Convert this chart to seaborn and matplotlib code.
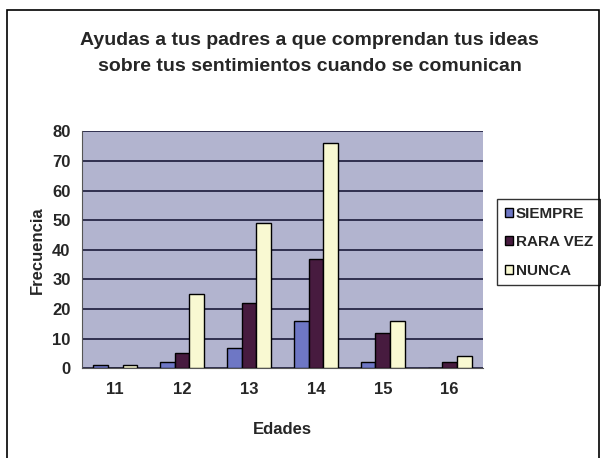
import pandas as pd
import matplotlib.pyplot as plt
import seaborn as sns
from matplotlib.patches import Rectangle

# Datos
edades = ["11", "12", "13", "14", "15", "16"]
siempre = [1, 2, 7, 16, 2, 0]
rara_vez = [0, 5, 22, 37, 12, 2]
nunca = [1, 25, 49, 76, 16, 4]
series = ["SIEMPRE", "RARA VEZ", "NUNCA"]
colores = ["#5f6cd4", "#4e1444", "#ffffcc"]

df = pd.DataFrame({"Edades": edades, "SIEMPRE": siempre,
                   "RARA VEZ": rara_vez, "NUNCA": nunca})
df_largo = df.melt(id_vars="Edades", var_name="Respuesta", value_name="Frecuencia")

sns.set_style("white")
plt.rcParams["font.family"] = ["Liberation Sans", "DejaVu Sans"]

fig = plt.figure(figsize=(6.01, 4.58), dpi=100)
ax = fig.add_axes([0.136, 0.196, 0.668, 0.517])

sns.barplot(data=df_largo, x="Edades", y="Frecuencia", hue="Respuesta",
            hue_order=series, palette=colores, width=0.66,
            edgecolor="black", linewidth=1.0, ax=ax, zorder=3)

ax.set_facecolor("#b2b4cf")
ax.set_ylim(0, 80)
ax.set_yticks(range(0, 81, 10))
ax.set_xlim(-0.5, len(edades) - 0.5)
ax.yaxis.grid(True, color="#1a1a3a", linewidth=1.2, zorder=1)
ax.set_axisbelow(True)
for lado in ["top", "right"]:
    ax.spines[lado].set_visible(False)
ax.spines["left"].set_color("#555555")
ax.spines["bottom"].set_color("#555555")

# marcas del eje x entre grupos, como en Excel
ax.tick_params(axis="x", which="major", length=0, pad=10)
ax.set_xticks([i + 0.5 for i in range(-1, len(edades))], minor=True)
ax.tick_params(axis="x", which="minor", length=5, color="#555555", direction="out")
ax.tick_params(axis="y", length=5, color="#555555", direction="out", pad=3)
for t in ax.get_xticklabels() + ax.get_yticklabels():
    t.set_fontsize(12)
    t.set_fontweight("bold")

ax.set_xlabel("Edades", fontsize=12, fontweight="bold", labelpad=18)
ax.set_ylabel("Frecuencia", fontsize=12, fontweight="bold", labelpad=5)

fig.text(0.515, 0.884, "Ayudas a tus padres a que comprendan tus ideas\n"
         "sobre tus sentimientos cuando se comunican",
         ha="center", va="center", fontsize=14, fontweight="bold",
         linespacing=1.7)

leg = ax.legend(loc="upper left", bbox_to_anchor=(1.035, 0.715), frameon=True,
                fancybox=False, edgecolor="black", fontsize=11,
                handlelength=0.55, handleheight=0.55, handletextpad=0.15,
                labelspacing=0.95, borderpad=0.5, borderaxespad=0)
leg.get_frame().set_linewidth(1.0)
for txt in leg.get_texts():
    txt.set_fontweight("bold")

# marco exterior del grafico
fig.patches.append(Rectangle((7 / 601, -10 / 458), 592 / 601, 458 / 458,
                             transform=fig.transFigure, fill=False,
                             edgecolor="black", linewidth=1.2))

fig.savefig("out.png", dpi=100)
